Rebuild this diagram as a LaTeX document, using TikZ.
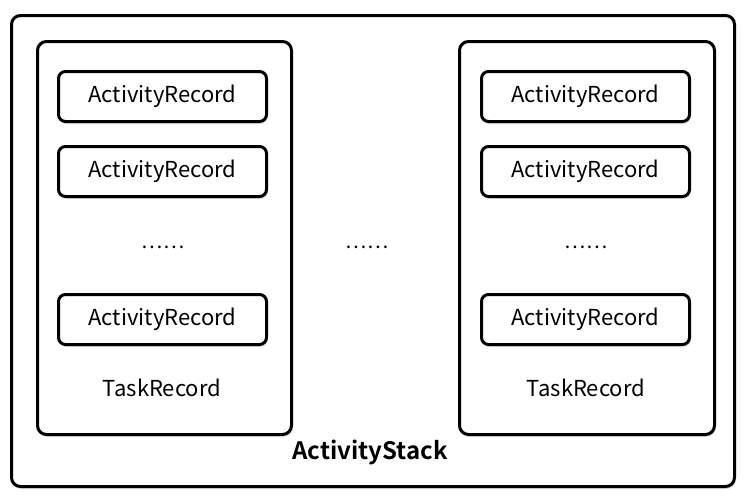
\documentclass[tikz,border=0pt]{standalone}
\usepackage{fontspec}
\setmainfont{Noto Sans CJK SC}[BoldFont={* Bold}]
\usetikzlibrary{shadows}
\begin{document}
\begin{tikzpicture}[x=1pt,y=-1pt,
  box/.style={draw=black,line width=3pt,rounded corners=9pt,fill=white,
    drop shadow={shadow xshift=1pt,shadow yshift=-2.5pt,opacity=0.25,fill=gray}},
  arbox/.style={box,rounded corners=7pt,minimum width=208pt,minimum height=50pt,anchor=north west},
  lbl/.style={font=\fontsize{22}{26}\selectfont,inner sep=0pt},
  dotlbl/.style={font=\fontsize{20}{24}\selectfont,inner sep=0pt},
  title/.style={font=\fontsize{24}{28}\selectfont\bfseries,inner sep=0pt}]
\useasboundingbox (0,0) rectangle (743,501);
\node[box,minimum width=723pt,minimum height=471pt,anchor=north west] (stack) at (10,14) {};
\node[box,minimum width=254pt,minimum height=393pt,anchor=north west] (taskL) at (36,40) {};
\node[box,minimum width=255pt,minimum height=393pt,anchor=north west] (taskR) at (458,40) {};
\foreach \side/\x in {L/57,R/480}{
  \node[arbox] (a1\side) at (\x,70) {};
  \node[lbl] at (a1\side.center) {ActivityRecord};
  \node[arbox] (a2\side) at (\x,145) {};
  \node[lbl] at (a2\side.center) {ActivityRecord};
  \node[arbox] (a3\side) at (\x,293) {};
  \node[lbl] at (a3\side.center) {ActivityRecord};
}
\node[dotlbl] (dL) at (163,247) {……};
\node[dotlbl] (dM) at (367,247) {……};
\node[dotlbl] (dR) at (586,247) {……};
\node[lbl] (tL) at (162,388) {TaskRecord};
\node[lbl] (tR) at (586,388) {TaskRecord};
\node[title] (sL) at (370,452) {ActivityStack};
\end{tikzpicture}
\end{document}
